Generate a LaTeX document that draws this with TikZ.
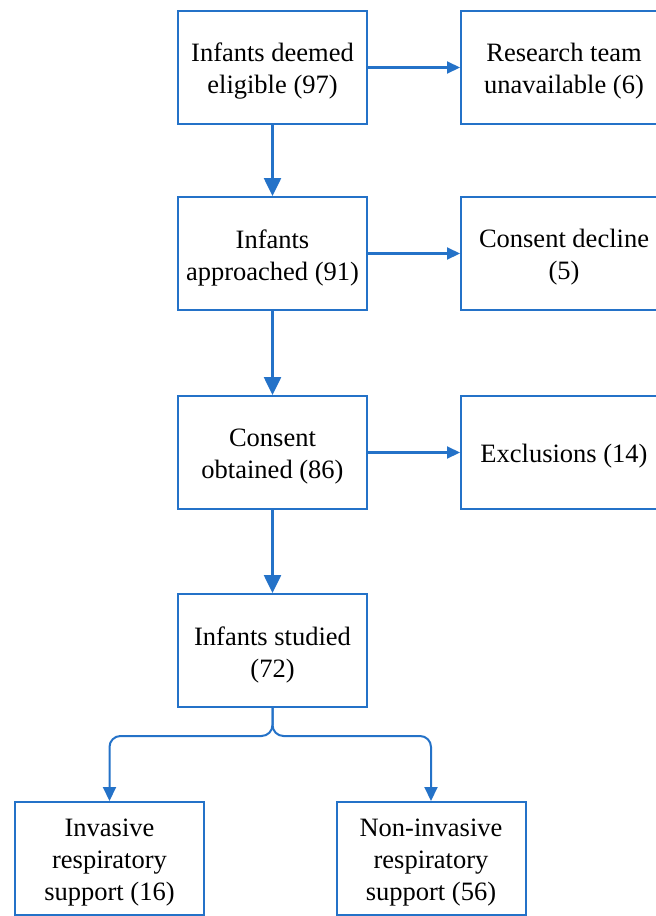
\documentclass[tikz,border=0pt]{standalone}
\usepackage{fontspec}
\setmainfont{Liberation Serif}
\usetikzlibrary{arrows.meta}
\definecolor{fblue}{HTML}{2472C8}
\tikzset{
  box/.style={draw=fblue, line width=2pt, rectangle, inner sep=0pt},
  boxtext/.style={align=center, inner sep=0pt, yshift=-4pt,
    font=\fontsize{26.5}{32}\selectfont, text=black},
  mainbox/.style={box, minimum width=189pt, minimum height=113pt},
  sidebox/.style={box, minimum width=206pt, minimum height=113pt},
  downarrow/.style={draw=fblue, line width=2.6pt, -{Triangle[length=18pt,width=17pt]}},
  sidearrow/.style={draw=fblue, line width=2.1pt, -{Triangle[length=13pt,width=12pt]}},
  brancharrow/.style={draw=fblue, line width=2pt, rounded corners=11pt, -{Triangle[length=14pt,width=13pt]}}
}
\begin{document}
\begin{tikzpicture}[x=1pt,y=1pt]
\useasboundingbox (0,0) rectangle (656,-916);
\clip (0,0) rectangle (656,-916);
\node[mainbox, label={[boxtext]center:{Infants deemed\\eligible (97)}}] (A) at (272.5,-67.5) {};
\node[mainbox, label={[boxtext]center:{Infants\\approached (91)}}] (B) at (272.5,-253.5) {};
\node[mainbox, label={[boxtext]center:{Consent\\obtained (86)}}] (C) at (272.5,-452.5) {};
\node[mainbox, label={[boxtext]center:{Infants studied\\(72)}}] (D) at (272.5,-650.5) {};
\node[sidebox, label={[boxtext]center:{Research team\\unavailable (6)}}] (A2) at (564,-67.5) {};
\node[sidebox, label={[boxtext]center:{Consent decline\\(5)}}] (B2) at (564,-253.5) {};
\node[sidebox, label={[boxtext]center:{Exclusions (14)}}] (C2) at (564,-452.5) {};
\node[mainbox, label={[boxtext]center:{Invasive\\respiratory\\support (16)}}] (L) at (109.5,-858.5) {};
\node[mainbox, label={[boxtext]center:{Non-invasive\\respiratory\\support (56)}}] (R) at (431,-858.5) {};
\coordinate (split) at (272.5,-736);
\draw[downarrow] (A) -- (B);
\draw[downarrow] (B) -- (C);
\draw[downarrow] (C) -- (D);
\draw[sidearrow] (A) -- (A2);
\draw[sidearrow] (B) -- (B2);
\draw[sidearrow] (C) -- (C2);
\draw[brancharrow] (D.south) -- (split) -| (L.north);
\draw[brancharrow] (D.south) -- (split) -| (R.north);
\end{tikzpicture}
\end{document}
